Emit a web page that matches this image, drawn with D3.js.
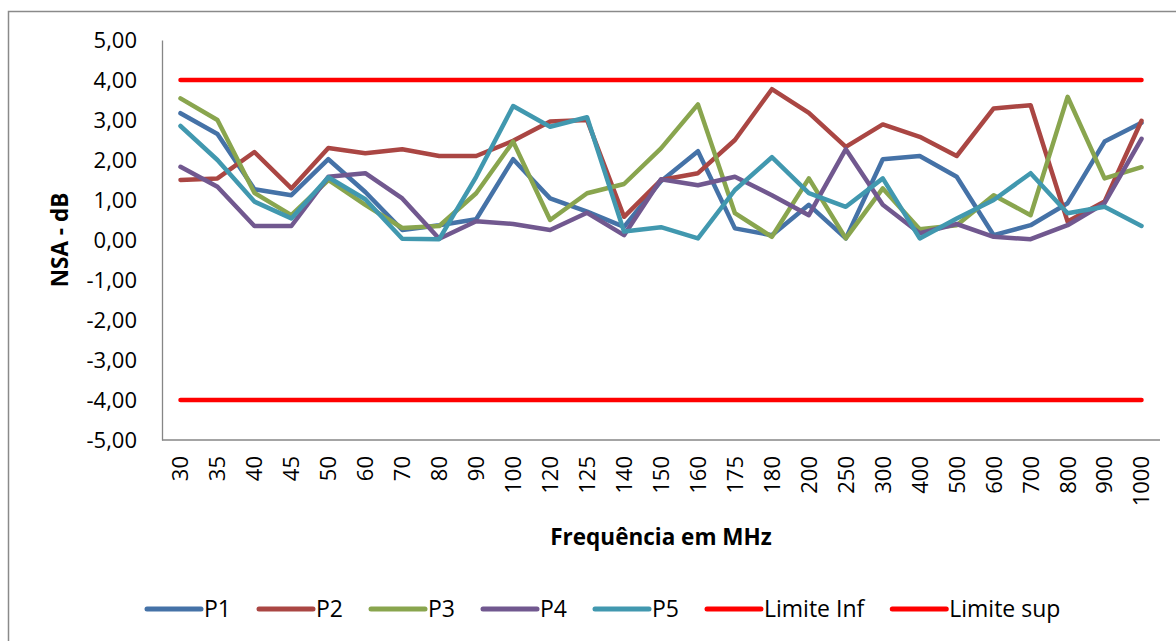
<!DOCTYPE html>
<html>
<head>
<meta charset="utf-8">
<script src="https://cdn.jsdelivr.net/npm/d3@7"></script>
<style>
  html, body { margin: 0; padding: 0; background: #fff; }
  svg { display: block; }
  text { font-family: "Open Sans", "DejaVu Sans", sans-serif; fill: #000; }
</style>
</head>
<body>
<svg id="chart" width="1176" height="641"></svg>
<script>
// Frequencies (MHz) on the category axis
const categories = ["30","35","40","45","50","60","70","80","90","100","120","125","140","150","160","175","180","200","250","300","400","500","600","700","800","900","1000"];

// NSA deviation (dB) for each measurement position
const p1 = [3.17, 2.65, 1.27, 1.12, 2.02, 1.20, 0.25, 0.37, 0.52, 2.02, 1.04, 0.71, 0.33, 1.47, 2.22, 0.29, 0.12, 0.88, 0.04, 2.02, 2.10, 1.58, 0.12, 0.37, 0.92, 2.46, 2.93];
const p2 = [1.50, 1.54, 2.20, 1.29, 2.30, 2.17, 2.27, 2.10, 2.10, 2.48, 2.96, 3.00, 0.58, 1.50, 1.67, 2.50, 3.77, 3.18, 2.33, 2.89, 2.58, 2.10, 3.29, 3.37, 0.46, 0.96, 2.98];
const p3 = [3.54, 3.00, 1.18, 0.62, 1.50, 0.88, 0.30, 0.35, 1.17, 2.46, 0.50, 1.17, 1.40, 2.29, 3.39, 0.67, 0.08, 1.54, 0.04, 1.29, 0.27, 0.37, 1.12, 0.62, 3.58, 1.54, 1.82];
const p4 = [1.83, 1.33, 0.35, 0.35, 1.58, 1.67, 1.04, 0.03, 0.47, 0.40, 0.25, 0.68, 0.12, 1.52, 1.37, 1.58, 1.12, 0.62, 2.27, 0.88, 0.17, 0.40, 0.08, 0.02, 0.37, 0.92, 2.53];
const p5 = [2.85, 2.00, 0.96, 0.54, 1.57, 1.02, 0.03, 0.02, 1.58, 3.35, 2.83, 3.07, 0.21, 0.32, 0.04, 1.25, 2.07, 1.17, 0.83, 1.54, 0.04, 0.54, 1.00, 1.67, 0.67, 0.83, 0.35];

// Tolerance limits (dB)
const limiteInf = categories.map(() => -4);
const limiteSup = categories.map(() => 4);

const yTicks = [5, 4, 3, 2, 1, 0, -1, -2, -3, -4, -5];

const seriesNames = ["P1", "P2", "P3", "P4", "P5", "Limite Inf", "Limite sup"];
const seriesValues = [p1, p2, p3, p4, p5, limiteInf, limiteSup];
const seriesColors = ["#4572A7", "#AA4643", "#89A54E", "#71588F", "#4198AF", "#FF0000", "#FF0000"];

const series = seriesNames.map((name, i) => ({ name, values: seriesValues[i], color: seriesColors[i] }));

const svg = d3.select("#chart");
const plot = { left: 162, right: 1160, top: 40, bottom: 440 };

// Outer chart frame (runs past the visible canvas on the right and bottom)
svg.append("rect")
  .attr("x", 8.5).attr("y", 11.5)
  .attr("width", 1300).attr("height", 800)
  .attr("fill", "none")
  .attr("stroke", "#8a8a8a")
  .attr("stroke-width", 1.5);

const x = d3.scaleBand().domain(categories).range([plot.left, plot.right]).padding(0);
const y = d3.scaleLinear().domain([-5, 5]).range([plot.bottom, plot.top]);
// Decimal comma and a plain hyphen for negatives
const fmt = v => d3.format(".2f")(v).replace(".", ",").replace("\u2212", "-");

// Y axis
const yAxis = svg.append("g")
  .attr("transform", `translate(${plot.left},0)`)
  .call(d3.axisLeft(y).tickValues(yTicks).tickFormat(fmt).tickSize(0).tickPadding(25));
yAxis.select(".domain").attr("stroke", "#868686").attr("stroke-width", 1.3);
yAxis.selectAll("text").style("font-size", "22px").attr("dy", "0.36em");

// X axis with rotated labels
const xAxis = svg.append("g")
  .attr("transform", `translate(0,${plot.bottom})`)
  .call(d3.axisBottom(x).tickSize(0).tickPadding(0));
xAxis.select(".domain").attr("stroke", "#868686").attr("stroke-width", 1.3)
  .attr("d", `M${plot.left},0H${plot.right}`);
xAxis.selectAll("text")
  .style("font-size", "22px")
  .attr("text-anchor", "end")
  .attr("transform", "translate(0,16) rotate(-90)")
  .attr("x", 0).attr("y", 0).attr("dy", "0.36em");

// Axis titles
svg.append("text")
  .attr("transform", `translate(60,${(plot.top + plot.bottom) / 2}) rotate(-90)`)
  .attr("text-anchor", "middle").attr("dy", "0.36em")
  .style("font-size", "22.5px").style("font-weight", "bold")
  .text("NSA - dB");

svg.append("text")
  .attr("x", 661).attr("y", 537)
  .attr("text-anchor", "middle").attr("dy", "0.36em")
  .style("font-size", "22.5px").style("font-weight", "bold")
  .text("Frequência em MHz");

// Series lines
const line = d3.line()
  .x((d, i) => x(categories[i]) + x.bandwidth() / 2)
  .y(d => y(d));

svg.append("g").selectAll("path")
  .data(series)
  .join("path")
  .attr("d", d => line(d.values))
  .attr("fill", "none")
  .attr("stroke", d => d.color)
  .attr("stroke-width", 4.5)
  .attr("stroke-linejoin", "round")
  .attr("stroke-linecap", "round");

// Legend
const legend = svg.append("g").attr("transform", "translate(0,609)");
let lx = 147;
series.forEach(s => {
  const g = legend.append("g");
  g.append("line")
    .attr("x1", lx).attr("x2", lx + 54)
    .attr("y1", 0).attr("y2", 0)
    .attr("stroke", s.color).attr("stroke-width", 5)
    .attr("stroke-linecap", "round");
  const t = g.append("text")
    .attr("x", lx + 57).attr("y", 0).attr("dy", "0.36em")
    .style("font-size", "23px")
    .text(s.name);
  lx += 57 + t.node().getComputedTextLength() + 28;
});
</script>
</body>
</html>
